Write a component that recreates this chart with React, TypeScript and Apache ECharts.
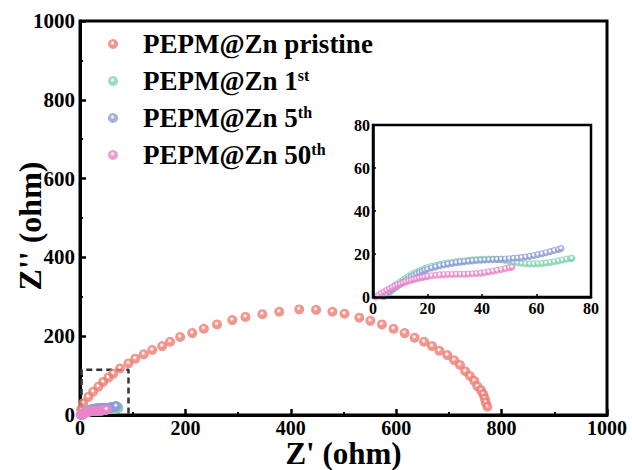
import React, { useEffect, useRef } from "react";
import * as echarts from "echarts";

// ---------- data ----------
const seriesNames = ["PEPM@Zn pristine", "PEPM@Zn 1st", "PEPM@Zn 5th", "PEPM@Zn 50th"];
const seriesColors = ["#EC7D73", "#7FD3B0", "#8D9CD6", "#E886C9"];

const pristineX = [2, 6, 16, 25, 35, 44, 54, 63, 76, 92, 105, 121, 137, 156, 171, 190, 213, 235, 260, 289, 314, 346, 378, 416, 448, 479, 502, 530, 551, 573, 595, 616, 635, 653, 668, 682, 697, 710, 721, 731, 740, 748, 754, 761, 765, 768, 770, 773];
const pristineY = [14, 30, 46, 59, 72, 84, 95, 105, 118, 131, 143, 154, 165, 175, 186, 198, 208, 219, 230, 241, 249, 256, 262, 268, 267, 262, 257, 247, 239, 230, 219, 208, 196, 186, 175, 163, 152, 139, 127, 111, 99, 87, 73, 63, 53, 42, 32, 21];

const firstX = [3, 4, 5, 6, 7, 8, 9, 10, 11, 12, 13, 14, 15, 16, 17, 18, 19, 20, 21.5, 23, 24.5, 26, 27.5, 29, 30.5, 32, 33.5, 35, 36.5, 38, 39.5, 41, 42.5, 44, 45.5, 47, 48.5, 50, 51.5, 53, 54.5, 56, 57.5, 59, 60.5, 62, 63.5, 65, 66.5, 68, 69.5, 71, 72.5, 73];
const firstY = [0.2, 1.2, 2.3, 3.3, 4.3, 5.3, 6.2, 7.1, 8.0, 8.8, 9.6, 10.3, 11.0, 11.6, 12.2, 12.7, 13.2, 13.7, 14.3, 14.8, 15.2, 15.6, 15.9, 16.2, 16.5, 16.7, 16.9, 17.1, 17.3, 17.4, 17.5, 17.6, 17.6, 17.6, 17.5, 17.3, 17.0, 16.7, 16.3, 16.0, 15.7, 15.5, 15.4, 15.4, 15.5, 15.6, 15.8, 16.1, 16.4, 16.8, 17.2, 17.6, 17.9, 18.0];

const fifthX = [4, 5, 6, 7, 8, 9, 10, 11, 12, 13, 14, 15, 16, 17, 18, 19, 20, 21.5, 23, 24.5, 26, 27.5, 29, 30.5, 32, 33.5, 35, 36.5, 38, 39.5, 41, 42.5, 44, 45.5, 47, 48.5, 50, 51.5, 53, 54.5, 56, 57.5, 59, 60.5, 62, 63.5, 65, 66.5, 68, 69];
const fifthY = [0.3, 1.2, 2.2, 3.2, 4.1, 5.0, 5.9, 6.8, 7.7, 8.5, 9.3, 10.0, 10.7, 11.3, 11.9, 12.4, 12.9, 13.5, 14.0, 14.5, 14.9, 15.3, 15.6, 15.9, 16.2, 16.4, 16.6, 16.8, 17.0, 17.1, 17.2, 17.3, 17.4, 17.5, 17.6, 17.7, 17.8, 18.0, 18.1, 18.3, 18.6, 18.9, 19.3, 19.7, 20.1, 20.6, 21.1, 21.6, 22.1, 22.6];

const fiftiethX = [1, 2, 3, 4, 5, 6, 7, 8, 9, 10, 11, 12, 13, 14, 15, 16, 17, 18, 19, 20, 21.5, 23, 24.5, 26, 27.5, 29, 30.5, 32, 33.5, 35, 36.5, 38, 39.5, 41, 42.5, 44, 45.5, 47, 48.5, 50, 51];
const fiftiethY = [0, 0.8, 1.6, 2.4, 3.1, 3.8, 4.4, 5.0, 5.6, 6.1, 6.6, 7.0, 7.4, 7.8, 8.2, 8.5, 8.8, 9.1, 9.3, 9.6, 9.9, 10.1, 10.3, 10.4, 10.5, 10.5, 10.6, 10.6, 10.6, 10.7, 10.8, 10.9, 11.1, 11.4, 11.7, 12.0, 12.4, 12.8, 13.2, 13.6, 13.9];

// zoomed region marked on the main plot (x, y corners)
const zoomBoxX = [3, 3, 92, 92];
const zoomBoxY = [0, 115, 115, 0];

const mainTicks = { min: 0, max: 1000, interval: 200 };
const insetTicks = { min: 0, max: 80, interval: 20 };

// ---------- helpers ----------
const FONT = "'Liberation Serif', 'Times New Roman', serif";
const zip = (xs: number[], ys: number[]) => xs.map((x, i) => [x, ys[i]]);
const sphere = (c: string, white: number) =>
  new echarts.graphic.RadialGradient(0.45, 0.4, 0.6, [
    { offset: 0, color: "#ffffff" },
    { offset: white, color: "#ffffff" },
    { offset: Math.min(white + 0.3, 1), color: c },
    { offset: 1, color: c },
  ]);

const allData = [
  zip(pristineX, pristineY),
  zip(firstX, firstY),
  zip(fifthX, fifthY),
  zip(fiftiethX, fiftiethY),
];

const legendFormatter = (name: string) => {
  const m = name.match(/^(.*?)(\d+)(st|th)$/);
  if (m) return `{b|${m[1]}${m[2]}}{s|${m[3]}}`;
  return `{b|${name}}`;
};

export default function App() {
  const ref = useRef<HTMLDivElement>(null);
  useEffect(() => {
    if (!ref.current) return;
    const chart = echarts.init(ref.current, undefined, { renderer: "svg" });

    const axisLabel = (size: number) => ({
      color: "#000",
      fontFamily: FONT,
      fontWeight: "bold" as const,
      fontSize: size,
      formatter: (v: number) => String(v),
    });

    const mainSeries = allData.map((d, i) => ({
      type: "scatter",
      name: seriesNames[i],
      xAxisIndex: 0,
      yAxisIndex: 0,
      data: d,
      symbol: "circle",
      symbolSize: 10,
      itemStyle: { color: sphere(seriesColors[i], 0.08) },
      silent: true,
      z: 3,
    }));
    const insetSeries = allData.slice(1).map((d, k) => ({
      type: "scatter",
      name: seriesNames[k + 1],
      xAxisIndex: 1,
      yAxisIndex: 1,
      data: d,
      symbol: "circle",
      symbolSize: 7,
      itemStyle: { color: sphere(seriesColors[k + 1], 0.22) },
      silent: true,
      z: 5,
    }));

    const titleStyle = { color: "#000", fontFamily: FONT, fontWeight: "bold" as const, fontSize: 31 };

    chart.setOption({
      animation: false,
      backgroundColor: "#fff",
      legend: {
        data: seriesNames,
        orient: "vertical",
        left: 103,
        top: 25,
        itemWidth: 50,
        itemHeight: 10,
        itemGap: 9,
        icon: "circle",
        formatter: legendFormatter,
        textStyle: {
          color: "#000",
          fontFamily: FONT,
          fontWeight: "bold",
          fontSize: 27,
          lineHeight: 28,
          rich: {
            b: { fontFamily: FONT, fontWeight: "bold", fontSize: 27, lineHeight: 28, color: "#000" },
            s: { fontFamily: FONT, fontWeight: "bold", fontSize: 16, lineHeight: 16, color: "#000", verticalAlign: "top" },
          },
        },
      },
      grid: [
        { left: 80, top: 21, width: 527, height: 394, show: true, borderColor: "#000", borderWidth: 3, backgroundColor: "transparent", containLabel: false, outerBoundsMode: "none" },
        { left: 373, top: 125, width: 218, height: 172, show: true, borderColor: "#000", borderWidth: 2.5, backgroundColor: "#fff", z: 4, containLabel: false, outerBoundsMode: "none" },
      ],
      xAxis: [
        {
          type: "value",
          gridIndex: 0,
          ...mainTicks,
          name: "Z' (ohm)",
          nameLocation: "middle",
          nameGap: 24,
          nameMoveOverlap: false,
          nameTextStyle: { ...titleStyle, lineHeight: 29 },
          axisLine: { show: true, lineStyle: { color: "#000", width: 3 } },
          axisTick: { show: true, inside: true, length: 6, lineStyle: { width: 2.5, color: "#000" } },
          minorTick: { show: true, splitNumber: 2, length: 3, lineStyle: { width: 2, color: "#000" } },
          splitLine: { show: false },
          axisLabel: { ...axisLabel(20), margin: 3 },
        },
        {
          type: "value",
          gridIndex: 1,
          ...insetTicks,
          axisLine: { show: true, lineStyle: { color: "#000", width: 2.5 } },
          axisTick: { show: true, inside: true, length: 3, lineStyle: { width: 1.5, color: "#000" } },
          splitLine: { show: false },
          axisLabel: { ...axisLabel(16), margin: 3 },
          z: 6,
        },
      ],
      yAxis: [
        {
          type: "value",
          gridIndex: 0,
          ...mainTicks,
          name: "Z'' (ohm)",
          nameLocation: "middle",
          nameGap: 34,
          nameMoveOverlap: false,
          nameTextStyle: { ...titleStyle, fontSize: 32, padding: [0, 16, 0, 0] },
          axisLine: { show: true, lineStyle: { color: "#000", width: 3 } },
          axisTick: { show: true, inside: true, length: 6, lineStyle: { width: 2.5, color: "#000" } },
          minorTick: { show: true, splitNumber: 2, length: 3, lineStyle: { width: 2, color: "#000" } },
          splitLine: { show: false },
          axisLabel: { ...axisLabel(21), margin: 5 },
        },
        {
          type: "value",
          gridIndex: 1,
          ...insetTicks,
          axisLine: { show: true, lineStyle: { color: "#000", width: 2.5 } },
          axisTick: { show: true, inside: true, length: 3, lineStyle: { width: 1.5, color: "#000" } },
          splitLine: { show: false },
          axisLabel: { ...axisLabel(16), margin: 3 },
          z: 6,
        },
      ],
      series: [
        {
          type: "line",
          name: "zoom box",
          xAxisIndex: 0,
          yAxisIndex: 0,
          data: zip(zoomBoxX, zoomBoxY),
          symbol: "none",
          lineStyle: { color: "#333", width: 2.5, type: [6, 4] },
          silent: true,
          z: 2,
        },
        ...mainSeries,
        ...insetSeries,
      ],
    });
    return () => chart.dispose();
  }, []);

  return <div ref={ref} style={{ width: 632, height: 470, position: "absolute", left: 0, top: 0 }} />;
}
